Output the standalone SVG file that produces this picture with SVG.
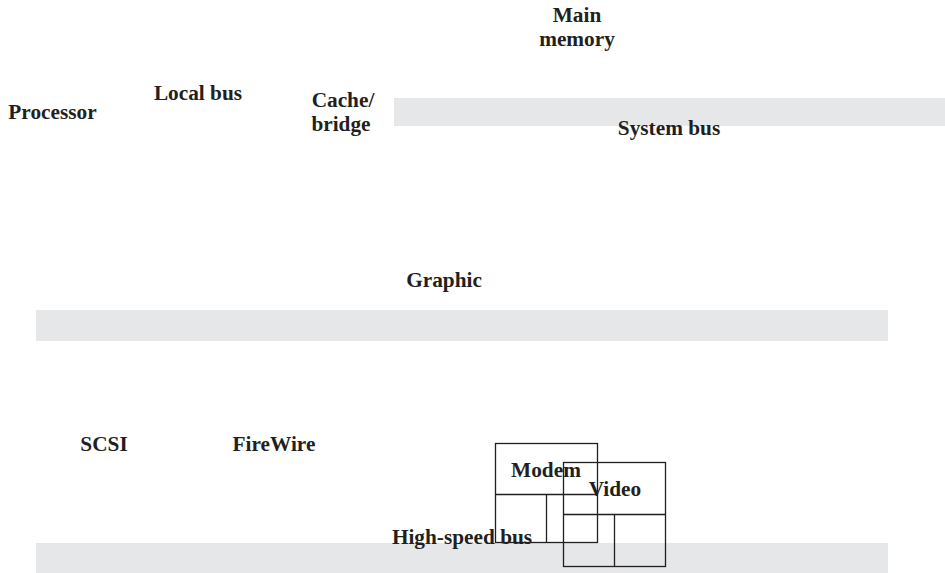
<svg xmlns="http://www.w3.org/2000/svg" width="945" height="573" viewBox="0 0 945 573">
<style>
.t{font-family:"Liberation Serif","Times New Roman",serif;font-weight:bold;font-size:21.3px;fill:#231f20;text-anchor:middle}
.bus{fill:#e6e7e8}
.box{fill:none;stroke:#231f20;stroke-width:1.3}
</style>
<rect width="945" height="573" fill="#fff"/>
<g id="buses">
<rect id="system-bus-bar" class="bus" x="394" y="98" width="551" height="28"/>
<rect id="expansion-bus-bar" class="bus" x="36" y="310" width="852" height="31"/>
<rect id="high-speed-bus-bar" class="bus" x="36" y="543" width="852" height="30"/>
</g>
<g id="main-memory"><text class="t" x="577" y="22">Main</text><text class="t" x="577" y="46">memory</text></g>
<g id="processor"><text class="t" x="52.5" y="119">Processor</text></g>
<g id="local-bus"><text class="t" x="198" y="100">Local bus</text></g>
<g id="cache-bridge"><text class="t" x="343" y="107">Cache/</text><text class="t" x="341" y="131">bridge</text></g>
<g id="system-bus"><text class="t" x="669" y="135">System bus</text></g>
<g id="graphic"><text class="t" x="444" y="287">Graphic</text></g>
<g id="scsi"><text class="t" x="104" y="451">SCSI</text></g>
<g id="firewire"><text class="t" x="274" y="451">FireWire</text></g>
<g id="high-speed-bus"><text class="t" x="462" y="544">High-speed bus</text></g>
<g id="modem">
<rect class="box" x="495.5" y="443.5" width="102" height="99"/>
<line class="box" x1="495.5" y1="494.5" x2="597.5" y2="494.5"/>
<line class="box" x1="546.5" y1="494.5" x2="546.5" y2="542.5"/>
<text class="t" x="546" y="477">Modem</text>
</g>
<g id="video">
<rect class="box" x="563.5" y="462.5" width="102" height="104"/>
<line class="box" x1="563.5" y1="514.5" x2="665.5" y2="514.5"/>
<line class="box" x1="614.5" y1="514.5" x2="614.5" y2="566.5"/>
<text class="t" x="615" y="496">Video</text>
</g>
<g id="connectors"></g>
</svg>
